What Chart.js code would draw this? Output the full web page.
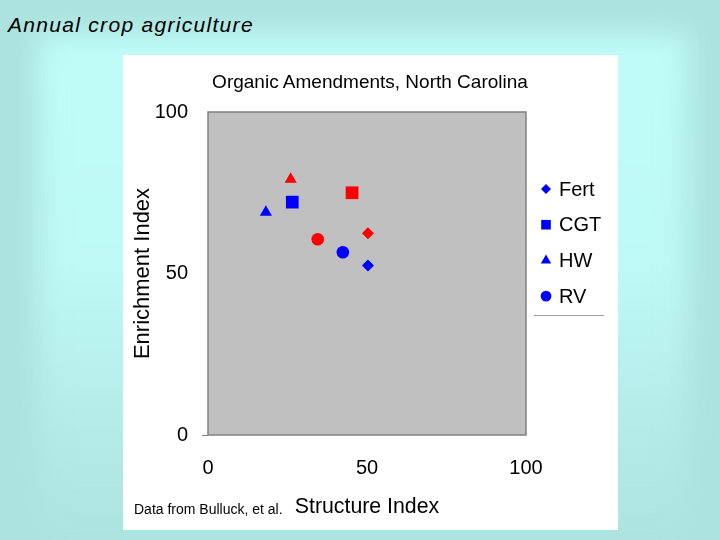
<!DOCTYPE html>
<html>
<head>
<meta charset="utf-8">
<script src="https://cdn.jsdelivr.net/npm/chart.js@4.4.0/dist/chart.umd.min.js"></script>
<style>
  html,body{margin:0;padding:0;}
  body{
    width:720px;height:540px;overflow:hidden;position:relative;
    background:#ace3df;
    font-family:"Liberation Sans", Arial, sans-serif;
  }
  #glow{
    position:absolute;left:38px;top:34px;width:650px;height:520px;
    background:linear-gradient(to bottom, #bffcf8 0%, #bef9f5 45%, #b3ebe7 75%, rgba(172,227,223,0) 100%);
    filter:blur(14px);
  }
  #pageTitle{position:absolute;left:8px;top:13px;font-size:21px;font-style:italic;letter-spacing:1.3px;color:#000;}
  #panel{position:absolute;left:123px;top:55px;width:495px;height:475px;background:#fff;}
  #chartTitle{position:absolute;left:170px;width:400px;top:71px;text-align:center;font-size:19px;color:#000;}
  #note{position:absolute;left:134px;top:501px;font-size:14px;color:#000;}
</style>
</head>
<body>
<div id="glow"></div>
<div id="pageTitle">Annual crop agriculture</div>
<div id="panel"><canvas id="chart" width="495" height="475"></canvas></div>
<div id="chartTitle">Organic Amendments, North Carolina</div>
<div id="note">Data from Bulluck, et al.</div>
<script>
// data
const treatments = ['Fert', 'CGT', 'HW', 'RV'];
const structureBlue = [50.3, 26.5, 18.2, 42.4];
const enrichmentBlue = [52.5, 72.1, 69.0, 56.6];
const structureRed = [50.3, 45.3, 26.0, 34.5];
const enrichmentRed = [62.5, 75.0, 79.2, 60.6];
const axisTicks = [0, 50, 100];

// styles
const markerStyles = ['rectRot', 'rect', 'triangle', 'circle'];
const markerRadius = [6, 9, 7, 6.3];
const legendRadius = [5, 6.8, 6, 5.4];
const BLUE = '#0000ff', RED = '#ff0000';
const FONT = '"Liberation Sans", Arial, sans-serif';

Chart.defaults.color = '#000';
Chart.defaults.font.family = FONT;

const datasets = treatments.map((name, i) => ({
  label: name,
  data: [
    {x: structureBlue[i], y: enrichmentBlue[i]},
    {x: structureRed[i], y: enrichmentRed[i]}
  ],
  pointStyle: markerStyles[i],
  pointRadius: markerRadius[i],
  pointHoverRadius: markerRadius[i],
  pointBorderWidth: 0,
  pointBackgroundColor: [BLUE, RED],
  pointBorderColor: [BLUE, RED]
}));

// gray plot box
const plotBox = {
  id: 'plotBox',
  beforeDatasetsDraw(chart) {
    const {ctx, chartArea: a} = chart;
    ctx.save();
    ctx.fillStyle = '#c0c0c0';
    ctx.fillRect(a.left, a.top, a.right - a.left, a.bottom - a.top);
    ctx.strokeStyle = '#808080';
    ctx.lineWidth = 1.5;
    ctx.strokeRect(a.left, a.top, a.right - a.left, a.bottom - a.top);
    ctx.restore();
  }
};

// legend on the right, blue markers
const sideLegend = {
  id: 'sideLegend',
  afterDraw(chart) {
    const {ctx, chartArea: a} = chart;
    ctx.save();
    ctx.font = '20px ' + FONT;
    ctx.textBaseline = 'middle';
    ctx.textAlign = 'left';
    chart.data.datasets.forEach((ds, i) => {
      const y = a.top + 77 + i * 35.7;
      ctx.fillStyle = BLUE;
      ctx.strokeStyle = BLUE;
      Chart.helpers.drawPoint(ctx, {pointStyle: ds.pointStyle, radius: legendRadius[i], borderWidth: 0}, a.right + 20, y);
      ctx.fillStyle = '#000';
      ctx.fillText(ds.label, a.right + 33, y + 1);
    });
    ctx.strokeStyle = '#a0a0a0';
    ctx.lineWidth = 1;
    ctx.beginPath();
    ctx.moveTo(a.right + 8, a.top + 203.5);
    ctx.lineTo(a.right + 78, a.top + 203.5);
    ctx.stroke();
    ctx.restore();
  }
};

new Chart(document.getElementById('chart'), {
  type: 'scatter',
  data: {datasets},
  options: {
    responsive: false,
    animation: false,
    layout: {padding: {top: 57, left: 0, right: 92, bottom: 0}},
    plugins: {
      legend: {display: false},
      tooltip: {enabled: false}
    },
    scales: {
      x: {
        min: 0, max: 100,
        afterBuildTicks: s => { s.ticks = axisTicks.map(v => ({value: v})); },
        afterFit: s => { s.height = 95; },
        grid: {display: false},
        border: {display: false},
        ticks: {font: {size: 20}, padding: 13},
        title: {display: true, text: 'Structure Index', font: {size: 21.3}, padding: {top: 0, bottom: 10}}
      },
      y: {
        min: 0, max: 100,
        afterBuildTicks: s => { s.ticks = axisTicks.map(v => ({value: v})); },
        afterFit: s => { s.width = 85; },
        grid: {
          drawOnChartArea: false,
          tickLength: 6,
          color: c => (c.tick && c.tick.value === 0) ? '#808080' : 'rgba(0,0,0,0)'
        },
        border: {display: false},
        ticks: {font: {size: 20}, padding: 14},
        title: {display: true, text: 'Enrichment Index', font: {size: 22}, padding: {top: 7, bottom: 0}}
      }
    }
  },
  plugins: [plotBox, sideLegend]
});
</script>
</body>
</html>
